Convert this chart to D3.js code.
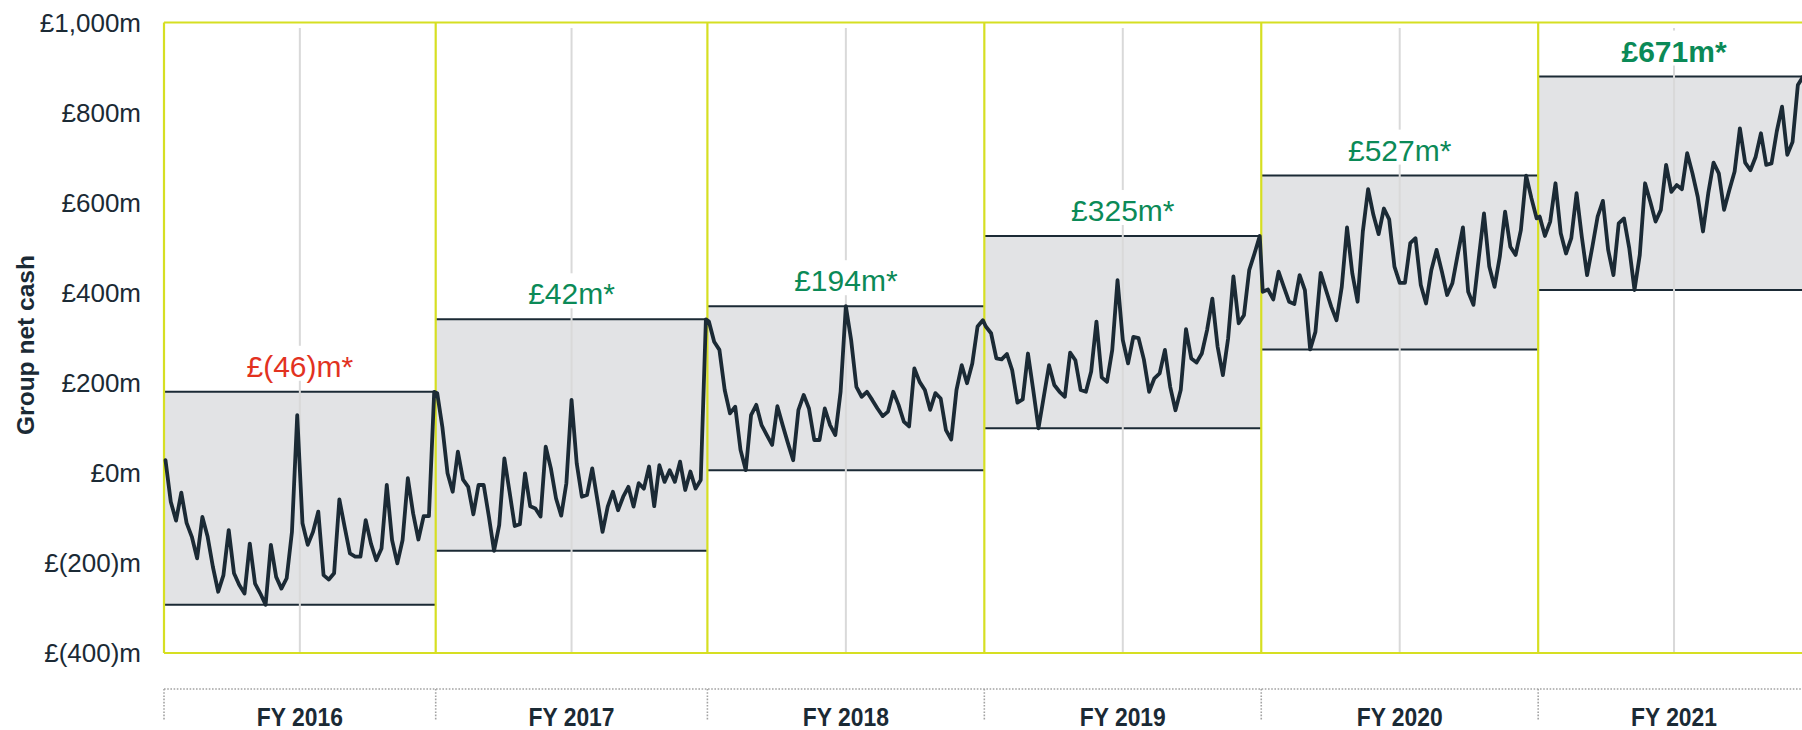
<!DOCTYPE html>
<html>
<head>
<meta charset="utf-8">
<script src="https://cdn.jsdelivr.net/npm/d3@7"></script>
<style>
  html, body { margin: 0; padding: 0; background: #ffffff; }
  svg { display: block; font-family: "Liberation Sans", Arial, Helvetica, sans-serif; }
</style>
</head>
<body>
<svg id="chart" width="1802" height="730"></svg>
<script>
// ---------------- DATA ----------------
const years = ["FY 2016", "FY 2017", "FY 2018", "FY 2019", "FY 2020", "FY 2021"];
const weeksPerYear = [52, 52, 53, 53, 53, 52];
const avgValues = [-46, 42, 194, 325, 527, 671];
const yTicks = [-400, -200, 0, 200, 400, 600, 800, 1000];
const yTickLabels = ["£(400)m", "£(200)m", "£0m", "£200m", "£400m", "£600m", "£800m", "£1,000m"];
const axisTitle = "Group net cash";

const fy2016 = [28, -64, -106, -44, -111, -142, -190, -98, -142, -209, -264, -227, -127, -223, -249, -268, -157, -246, -268, -293, -160, -231, -257, -234, -131, 128, -112, -160, -131, -86, -227, -237, -223, -59, -120, -179, -186, -186, -105, -157, -194, -168, -27, -149, -201, -149, -12, -90, -148, -96, -96, 180];
const fy2017 = [177, 102, -1, -42, 47, -15, -31, -92, -27, -27, -97, -173, -116, 32, -42, -118, -114, -1, -74, -79, -97, 58, 10, -57, -95, -23, 162, 21, -53, -49, 10, -60, -131, -75, -42, -83, -53, -31, -75, -23, -35, 14, -74, 17, -20, 6, -20, 25, -38, 3, -35, -16, 341];
const fy2018 = [336, 291, 273, 184, 132, 147, 51, 6, 128, 151, 106, 84, 62, 148, 106, 66, 28, 140, 173, 143, 73, 73, 143, 106, 84, 180, 370, 295, 191, 169, 180, 162, 143, 126, 136, 180, 151, 114, 103, 232, 202, 184, 140, 177, 165, 95, 74, 184, 239, 199, 243, 325, 339];
const fy2019 = [325, 310, 254, 252, 264, 228, 156, 163, 265, 184, 99, 169, 239, 195, 180, 169, 267, 250, 184, 180, 225, 336, 212, 202, 273, 428, 295, 243, 302, 299, 252, 180, 210, 221, 273, 191, 139, 184, 319, 254, 245, 265, 317, 387, 280, 217, 299, 436, 332, 350, 450, 487, 526];
const fy2020 = [402, 407, 385, 447, 413, 380, 375, 439, 406, 274, 313, 444, 406, 369, 339, 413, 545, 443, 380, 536, 630, 573, 530, 587, 563, 458, 422, 422, 510, 521, 417, 376, 450, 495, 447, 395, 421, 484, 545, 402, 373, 476, 576, 458, 413, 480, 580, 502, 484, 539, 660, 610, 565];
const fy2021 = [569, 526, 558, 643, 532, 487, 521, 621, 524, 439, 502, 569, 604, 495, 439, 554, 565, 499, 406, 484, 643, 602, 558, 584, 684, 624, 639, 630, 710, 665, 613, 536, 621, 689, 665, 584, 628, 669, 765, 689, 672, 702, 754, 684, 687, 758, 813, 706, 735, 861, 880, 862];
const series = [fy2016, fy2017, fy2018, fy2019, fy2020, fy2021];

// ---------------- STYLE ----------------
const C = {
  yellow: "#d6df22",
  dark: "#1b2a35",
  band: "#e2e3e5",
  median: "#d9d9d9",
  green: "#0b8a57",
  red: "#e2321f",
  dots: "#a3a3a3"
};

const svg = d3.select("#chart");
const margin = { left: 164, top: 22.5, bottom: 653 };
const totalWeeks = d3.sum(weeksPerYear);
const weekStarts = d3.cumsum([0].concat(weeksPerYear)); // boundaries
const x = d3.scaleLinear().domain([0, totalWeeks]).range([margin.left, margin.left + totalWeeks * 5.225]);
const y = d3.scaleLinear().domain([-400, 1000]).range([margin.bottom, margin.top]);

// per-year info
const yearInfo = years.map((name, i) => {
  const x0 = x(weekStarts[i]), x1 = x(weekStarts[i + 1]);
  const vals = series[i];
  const inner = d3.scaleLinear().domain([0, vals.length - 1]).range([x0 + 1.5, x1 - 1.5]);
  const [mn, mx] = d3.extent(vals);
  return { name, i, x0, x1, cx: (x0 + x1) / 2, vals, inner, mn, mx, avg: avgValues[i] };
});

// ---------------- BANDS ----------------
const gBand = svg.append("g");
yearInfo.forEach(d => {
  gBand.append("rect")
    .attr("x", d.x0).attr("width", d.x1 - d.x0)
    .attr("y", y(d.mx)).attr("height", y(d.mn) - y(d.mx))
    .attr("fill", C.band);
  [d.mx, d.mn].forEach(v => {
    gBand.append("line")
      .attr("x1", d.x0).attr("x2", d.x1)
      .attr("y1", y(v)).attr("y2", y(v))
      .attr("stroke", C.dark).attr("stroke-width", 2);
  });
});

// ---------------- MEDIAN LINES ----------------
const gMed = svg.append("g");
yearInfo.forEach(d => {
  gMed.append("line")
    .attr("x1", d.cx).attr("x2", d.cx)
    .attr("y1", y(1000) + 5.5).attr("y2", y(-400))
    .attr("stroke", C.median).attr("stroke-width", 2);
});

// ---------------- AVERAGE LABELS ----------------
const fmtMoney = v => v < 0 ? `£(${Math.abs(v)})m*` : `£${d3.format(",")(v)}m*`;
const gLab = svg.append("g");
yearInfo.forEach((d, k) => {
  const g = gLab.append("g");
  const base = y(d.mx) - 15;
  const t = g.append("text")
    .attr("x", d.cx).attr("y", base)
    .attr("text-anchor", "middle")
    .attr("font-size", 30)
    .attr("font-weight", k === yearInfo.length - 1 ? 700 : 400)
    .attr("fill", d.avg < 0 ? C.red : C.green)
    .text(fmtMoney(d.avg));
  const w = t.node().getComputedTextLength();
  g.insert("rect", "text")
    .attr("x", d.cx - w / 2 - 4).attr("width", w + 8)
    .attr("y", base - 31).attr("height", 35)
    .attr("fill", "#ffffff");
});

// ---------------- FRAME (yellow) ----------------
const gFrame = svg.append("g");
[y(1000), y(-400)].forEach(yy => {
  gFrame.append("line")
    .attr("x1", x(0)).attr("x2", x(totalWeeks))
    .attr("y1", yy).attr("y2", yy)
    .attr("stroke", C.yellow).attr("stroke-width", 2.2);
});
weekStarts.forEach(ws => {
  gFrame.append("line")
    .attr("x1", x(ws)).attr("x2", x(ws))
    .attr("y1", y(1000)).attr("y2", y(-400))
    .attr("stroke", C.yellow).attr("stroke-width", 2.2);
});

// ---------------- DATA LINE ----------------
const pts = [];
yearInfo.forEach(d => d.vals.forEach((v, j) => pts.push([d.inner(j), y(v)])));
svg.append("path")
  .attr("d", d3.line()(pts))
  .attr("fill", "none")
  .attr("stroke", C.dark)
  .attr("stroke-width", 3.8)
  .attr("stroke-linejoin", "round")
  .attr("stroke-linecap", "round");

// ---------------- Y AXIS ----------------
const yAxis = d3.axisLeft(y)
  .tickValues(yTicks)
  .tickFormat((v, i) => yTickLabels[i])
  .tickSize(0)
  .tickPadding(23);
const gy = svg.append("g").attr("transform", `translate(${margin.left},0)`).call(yAxis);
gy.select(".domain").remove();
gy.selectAll("text")
  .attr("font-size", 26)
  .attr("font-family", "'Liberation Sans', Arial, sans-serif")
  .attr("fill", C.dark)
  .attr("dy", "0.34em");

svg.append("text")
  .attr("transform", "translate(34,345) rotate(-90)")
  .attr("text-anchor", "middle")
  .attr("font-size", 24.5)
  .attr("font-weight", 700)
  .attr("fill", C.dark)
  .attr("textLength", 180)
  .attr("lengthAdjust", "spacingAndGlyphs")
  .text(axisTitle);

// ---------------- X CATEGORY AXIS ----------------
const gX = svg.append("g");
gX.append("line")
  .attr("x1", x(0)).attr("x2", x(totalWeeks))
  .attr("y1", 689).attr("y2", 689)
  .attr("stroke", C.dots).attr("stroke-width", 1.6)
  .attr("stroke-dasharray", "1.6 1.6");
weekStarts.forEach(ws => {
  gX.append("line")
    .attr("x1", x(ws)).attr("x2", x(ws))
    .attr("y1", 689).attr("y2", 720)
    .attr("stroke", C.dots).attr("stroke-width", 1.6)
    .attr("stroke-dasharray", "1.6 1.6");
});
yearInfo.forEach(d => {
  gX.append("text")
    .attr("x", d.cx).attr("y", 726)
    .attr("text-anchor", "middle")
    .attr("font-size", 25)
    .attr("font-weight", 700)
    .attr("fill", C.dark)
    .attr("textLength", 86)
    .attr("lengthAdjust", "spacingAndGlyphs")
    .text(d.name);
});
</script>
</body>
</html>
